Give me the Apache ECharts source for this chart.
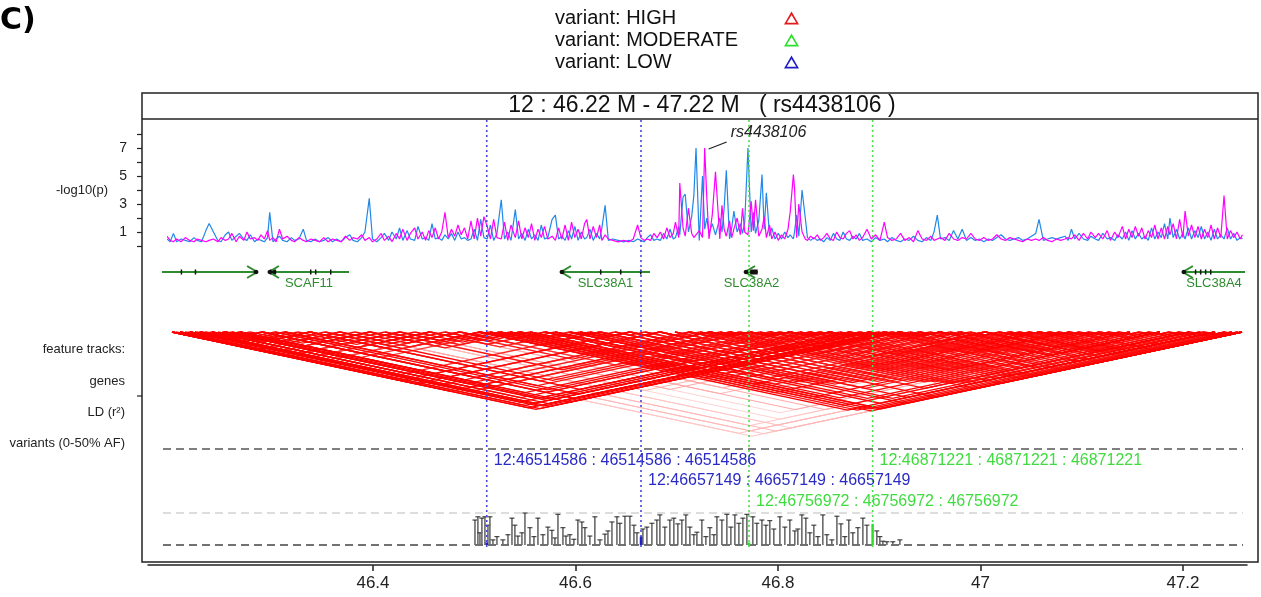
<!DOCTYPE html>
<html><head><meta charset="utf-8">
<script src="https://cdn.jsdelivr.net/npm/echarts@6/dist/echarts.min.js"></script>
<style>html,body{margin:0;padding:0;background:#fff}#c{width:1261px;height:597px}</style>
</head><body><div id="c"></div>
<script>
// ---------------- DATA ----------------
// association track: SNP positions (Mb) and -log10(p) of the two traces
const posA = [46.219,46.222,46.225,46.228,46.232,46.236,46.240,46.244,46.247,46.251,
46.255,46.258,46.262,46.266,46.269,46.273,46.276,46.279,46.283,46.286,
46.290,46.293,46.296,46.300,46.303,46.306,46.309,46.312,46.314,46.317,
46.320,46.323,46.326,46.330,46.334,46.337,46.341,46.345,46.348,46.352,
46.356,46.360,46.364,46.368,46.372,46.376,46.380,46.384,46.388,46.391,
46.395,46.399,46.402,46.406,46.409,46.413,46.417,46.420,46.424,46.427,
46.431,46.434,46.437,46.441,46.444,46.448,46.451,46.455,46.458,46.461,
46.464,46.467,46.470,46.473,46.476,46.479,46.482,46.485,46.488,46.491,
46.494,46.497];
const blueA = [0.5,0.3,0.9,0.3,0.5,0.4,0.3,0.6,0.4,0.3,
1.1,1.6,1.0,0.4,0.3,0.8,1.0,0.4,0.7,0.9,
0.5,0.4,0.8,0.3,0.5,0.4,0.3,0.6,2.4,0.3,
0.5,0.7,0.4,0.3,0.6,0.4,0.5,1.2,0.4,0.3,
0.5,0.3,0.4,0.6,0.3,0.5,0.3,0.6,0.8,0.4,
0.3,0.6,1.0,3.4,0.5,0.3,0.6,0.9,0.4,1.0,
0.5,1.3,0.4,1.1,0.5,0.4,1.4,0.5,0.6,0.4,
1.6,0.5,0.6,0.4,0.8,0.5,0.9,0.4,1.0,0.5,
0.6,0.4];
const magA = [0.7,0.4,0.3,0.5,0.3,0.6,0.4,0.3,0.5,0.4,
0.3,0.4,0.5,0.3,0.6,0.4,0.5,0.9,0.3,0.7,
0.4,1.0,0.5,0.6,0.4,0.8,0.5,1.1,0.4,0.6,
0.3,1.2,0.5,0.7,0.4,0.3,0.6,0.4,0.3,0.5,
0.4,0.3,0.6,0.3,0.5,0.4,0.3,0.7,0.4,0.6,
0.5,0.8,0.4,0.6,0.3,0.5,0.9,0.4,0.7,0.3,
0.9,0.5,1.2,0.4,0.9,1.3,0.5,1.0,0.4,1.1,
0.6,1.3,0.5,1.0,2.4,0.6,1.2,0.7,1.5,0.8,
1.3,0.5];
const posB = [46.500,46.503,46.506,46.509,46.512,46.515,46.518,46.521,46.524,46.528,
46.531,46.534,46.537,46.541,46.544,46.547,46.550,46.553,46.556,46.559,
46.562,46.565,46.568,46.571,46.575,46.578,46.581,46.584,46.587,46.590,
46.593,46.596,46.599,46.602,46.605,46.607,46.610,46.613,46.616,46.619,
46.621,46.624,46.627,46.631,46.636,46.641,46.646,46.650,46.654,46.657,
46.660,46.663,46.666,46.669,46.672,46.675,46.678,46.681,46.684,46.687,
46.689,46.692,46.693,46.696,46.698,46.701,46.704,46.706,46.708,46.711,
46.714,46.716,46.718,46.720,46.723,46.726,46.730,46.732,46.734,46.736,
46.739,46.741,46.743,46.746,46.749,46.751,46.753,46.756,46.759,46.761,
46.763,46.766,46.769,46.771,46.773,46.776,46.778,46.781,46.784,46.787,
46.790,46.793,46.795,46.798,46.799,46.801,46.803,46.806,46.809,46.811,
46.814,46.817,46.820,46.823,46.826,46.829,46.832,46.835,46.838,46.841,
46.844,46.847,46.850,46.853,46.856,46.859];
const blueB = [0.5,1.2,0.4,1.9,0.6,0.5,1.5,0.4,0.9,3.3,
0.5,1.0,0.4,2.6,0.5,0.9,0.4,1.2,0.5,0.8,
0.4,1.5,0.5,0.6,1.9,2.2,0.5,0.7,0.4,1.1,
0.5,1.4,0.4,1.0,0.5,0.6,1.2,0.4,0.9,0.5,
1.3,2.9,0.4,0.5,0.4,0.3,0.4,0.3,0.5,0.4,
0.3,0.6,0.8,0.4,0.5,0.4,0.9,0.5,1.2,0.5,
0.6,1.4,0.8,3.5,3.7,1.0,2.1,3.6,7.0,0.4,
5.0,1.2,2.0,0.9,1.6,0.8,2.0,1.0,2.7,5.4,
0.5,1.3,2.5,1.0,1.6,0.9,1.7,7.0,1.0,2.4,
0.9,1.8,5.1,1.2,3.8,0.7,1.3,0.5,0.9,0.5,
1.0,0.6,0.8,0.5,1.0,2.2,0.7,4.0,2.0,0.6,
0.4,0.6,0.4,0.5,0.3,0.6,0.4,0.9,0.5,0.4,
1.0,0.5,0.4,0.7,0.5,0.9];
const magB = [1.8,0.5,2.0,0.7,2.1,1.4,0.5,1.9,0.6,0.5,
1.7,0.4,1.5,0.6,1.8,0.5,1.3,0.6,1.6,0.4,
1.2,0.6,1.4,0.5,0.7,0.4,1.3,0.5,1.5,0.4,
1.7,0.6,1.2,0.5,1.6,1.9,0.5,1.4,0.6,1.5,
0.4,0.8,0.5,0.4,0.3,0.4,0.3,0.5,1.5,0.6,
0.4,0.5,0.4,0.9,0.6,1.0,0.5,1.3,0.6,0.9,
1.7,0.6,4.5,1.3,0.7,2.7,0.9,0.6,0.8,1.1,
0.6,7.0,3.4,0.5,2.2,5.3,0.5,2.9,1.2,0.7,
1.8,0.6,1.2,2.0,0.8,2.7,1.0,0.8,3.2,1.1,
3.3,0.7,1.2,2.1,0.6,1.5,0.5,1.0,0.4,0.8,
0.5,1.2,2.4,5.1,4.2,0.6,3.0,1.0,0.5,0.4,
0.7,0.5,0.8,0.4,0.6,0.9,0.5,0.4,1.0,0.6,
0.5,0.9,1.1,0.5,0.8,0.4];
const posC = [46.862,46.866,46.870,46.874,46.878,46.882,46.885,46.889,46.893,46.897,
46.901,46.905,46.909,46.913,46.917,46.921,46.925,46.928,46.931,46.934,
46.938,46.942,46.946,46.950,46.954,46.958,46.962,46.966,46.970,46.974,
46.978,46.982,46.986,46.990,46.994,46.998,47.002,47.006,47.010,47.014,
47.018,47.022,47.025,47.029,47.033,47.037,47.041,47.045,47.049,47.052,
47.055,47.058,47.062,47.066,47.070,47.073,47.077,47.080,47.084,47.088,
47.091,47.095,47.098,47.102,47.105,47.108,47.111,47.114,47.117,47.120,
47.123,47.126,47.129,47.132,47.135,47.138,47.141,47.144,47.146,47.149,
47.152,47.155,47.158,47.160,47.163,47.166,47.169,47.172,47.175,47.178,
47.181,47.184,47.187,47.190,47.193,47.196,47.199,47.202,47.205,47.208,
47.211,47.213];
const blueC = [0.4,0.5,0.3,0.6,0.4,0.5,0.3,0.6,0.4,0.3,
0.5,0.4,0.7,0.4,0.3,0.6,0.4,1.0,2.2,0.5,
0.6,0.4,1.1,0.5,1.2,0.4,0.6,0.4,0.5,0.3,
0.5,0.4,0.6,0.8,0.5,0.4,0.5,0.6,0.4,0.5,
0.7,0.9,1.9,0.4,0.5,0.6,0.5,0.6,0.7,0.4,
1.2,0.5,0.9,0.5,0.4,0.7,0.5,0.4,0.9,0.5,
0.6,0.4,0.8,0.5,1.0,0.4,1.1,0.5,0.9,0.5,
0.7,0.4,1.3,0.5,1.0,0.6,1.6,0.5,2.0,0.6,
1.2,0.5,0.9,0.5,1.3,0.5,1.1,0.6,1.4,0.5,
1.0,0.4,1.2,0.5,0.8,0.5,1.3,0.5,0.9,0.4,
0.6,0.5];
const magC = [0.6,1.2,0.5,0.8,0.4,1.7,0.6,0.4,0.5,0.9,
0.4,0.6,0.3,1.1,0.5,0.4,0.7,0.4,0.5,0.6,
0.4,0.9,0.5,0.4,0.6,0.5,0.9,0.5,0.4,0.6,
0.4,0.5,0.8,0.5,0.4,0.6,0.5,0.4,0.3,0.5,
0.4,0.5,0.4,0.6,0.4,0.3,0.5,0.4,0.5,0.6,
0.5,0.8,0.4,0.9,0.5,1.0,0.6,0.9,0.5,1.1,
0.4,1.0,0.6,1.4,0.5,1.2,0.6,1.4,0.7,1.3,
0.5,1.1,0.6,1.5,0.5,1.3,0.5,1.4,0.8,1.6,
0.5,1.9,0.6,2.5,0.7,1.5,0.6,1.4,0.5,1.2,
0.6,1.5,0.5,1.3,0.6,3.6,0.5,1.1,0.6,1.0,
0.5,0.8];
const yTickLabelValues = [1, 3, 5, 7];
const leadSnpName = 'rs4438106';
const leadSnpPos = 46.716;
const leadSnpLogP = 7.0;

// genes track
const geneNames  = ['', 'SCAF11', 'SLC38A1', 'SLC38A2', 'SLC38A4'];
const geneStart  = [46.2145, 46.3133, 46.5832, 46.7533, 47.1580];
const geneEnd    = [46.3023, 46.3873, 46.6655, 46.7653, 47.2154];
const geneStrand = ['+', '-', '-', '-', '-'];
const geneExons  = [
  [[46.2317, 46.2330], [46.2447, 46.2460]],
  [[46.3143, 46.3200], [46.3512, 46.3516], [46.3558, 46.3562], [46.3697, 46.3701]],
  [[46.6192, 46.6196], [46.6377, 46.6381], [46.6562, 46.6566]],
  [[46.7580, 46.7650]],
  [[47.1690, 47.1694], [47.1737, 47.1741], [47.1783, 47.1787], [47.1830, 47.1834]]
];

// LD track: SNP positions (Mb) and pairs (index i, index j, r2)
const ldSnps = [46.2237,46.2311,46.2403,46.2496,46.2607,46.2727,46.2865,46.3069,46.3281,46.3512,
46.3790,46.4067,46.4344,46.4621,46.4899,46.5084,46.5268,46.5453,46.5684,46.5915,
46.6193,46.6470,46.6747,46.7024,46.7209,46.7394,46.7579,46.7764,46.7949,46.8133,
46.8318,46.8503,46.8688,46.8827,46.8965,46.9150,46.9335,46.9520,46.9751,46.9982,
47.0259,47.0536,47.0814,47.1091,47.1368,47.1645,47.1877,47.2126,
46.9888,47.0072,47.0165,47.0350,47.0442,47.0627,47.0719,47.0904,47.0996,47.1181,
47.1274,47.1458,47.1551,47.1736,47.1782,47.1967,47.2031,47.2087,
46.5175,46.5360,46.5545,46.5776,46.6007,46.6099,46.6330,46.6607,46.6885,46.7116,
46.7300,46.7485,46.7670,46.7855,46.8040,46.8224,46.8409,46.8594,46.8760,46.8890,
46.9056,46.9241,46.9426,46.9610,
46.2274,46.2357,46.2449,46.2551,46.2662,46.2791,46.2958,46.3189,46.3401,46.3651,
46.3928,46.4205,46.4482,46.4759];
const ldI = [0,0,1,1,2,2,3,3,4,4,5,5,6,6,7,7,8,8,9,9,
0,1,2,3,4,5,6,7,0,2,4,6,
16,15,17,18,16,19,20,21,22,23,24,25,26,27,28,29,30,20,22,24,26,28,
8,7,9,8,10,9,11,12,7,10,13,14,15,16,17,13,12,11,10,14,10,11,12,
0,0,1,2,3,4,5,6,7,8,9,10,11,12,0,1,2,3,4,5,6,7,0,1,2,
13,14,15,16,17,18,19,20,21,22,23,24,25,26,27,28,29,30,31,32,33,34,35,36,37,38,39,40,41,42,
15,17,19,21,23,25,27,29,31,33,35,37,39,
16,18,20,22,24,26,28,30,32,34,
14,18,22,26,30,34,38,42,45,
24,25,26,27,28,29,30,31,32,33,24,25,26,27,28,29,30,32,33,34,35,36,37,34,36,38,35,37,39,41,40,38,
0,1,2,3,4,5,6,7,8,9,10,11,12,13,0,1,3,5,7,9,11,13,
15,17,19,21,23,25,14,16,18];
const ldJ = [34,33,34,32,33,31,34,32,33,30,32,31,34,29,33,30,32,28,31,27,
22,21,23,20,22,24,21,23,25,26,25,26,
47,46,47,46,45,47,46,47,45,44,47,46,45,44,43,42,41,43,42,41,40,39,
46,46,45,47,46,47,45,44,47,47,44,45,40,41,42,39,36,35,34,38,30,31,29,
3,6,5,7,8,9,10,11,12,13,14,15,16,17,9,10,11,12,13,14,15,16,12,13,14,
18,19,20,21,22,23,24,25,26,27,28,29,30,31,32,33,34,35,36,37,38,39,40,41,42,43,44,45,46,47,
24,26,28,30,32,34,36,38,40,42,44,46,47,
29,31,33,35,37,39,41,43,45,47,
17,20,24,28,32,36,40,44,47,
35,37,38,40,41,43,44,45,46,47,39,40,42,43,45,46,47,40,41,43,45,46,47,44,44,46,41,43,45,47,46,44,
2,4,5,6,7,8,9,10,11,12,13,14,15,16,5,7,9,11,13,15,17,19,
28,30,32,34,36,38,27,30,32];
const ldR2 = [0.95,0.9,0.9,0.95,0.9,0.85,0.95,0.9,0.9,0.85,0.95,0.9,0.9,0.85,0.9,0.8,0.85,0.8,0.85,0.8,
0.8,0.85,0.8,0.75,0.85,0.8,0.8,0.75,0.85,0.8,0.8,0.75,
0.95,0.9,0.9,0.85,0.85,0.9,0.85,0.85,0.8,0.8,0.85,0.8,0.8,0.8,0.75,0.75,0.7,0.75,0.75,0.7,0.7,0.7,
0.25,0.2,0.2,0.2,0.2,0.25,0.15,0.15,0.2,0.15,0.3,0.3,0.35,0.3,0.3,0.25,0.3,0.25,0.3,0.3,0.3,0.25,0.3,
0.9,0.8,0.85,0.8,0.85,0.8,0.75,0.8,0.75,0.8,0.75,0.8,0.75,0.8,0.7,0.75,0.7,0.75,0.7,0.65,0.7,0.65,0.6,0.6,0.55,
0.8,0.8,0.85,0.8,0.85,0.8,0.85,0.8,0.85,0.8,0.85,0.8,0.85,0.8,0.85,0.8,0.85,0.8,0.85,0.8,0.85,0.8,0.85,0.8,0.85,0.8,0.85,0.8,0.85,0.8,
0.7,0.75,0.7,0.75,0.7,0.75,0.7,0.75,0.7,0.75,0.7,0.75,0.7,
0.7,0.65,0.7,0.65,0.7,0.65,0.7,0.65,0.7,0.65,
0.9,0.9,0.9,0.9,0.9,0.9,0.9,0.9,0.9,
0.85,0.8,0.85,0.8,0.85,0.8,0.85,0.8,0.85,0.8,0.8,0.85,0.8,0.85,0.8,0.85,0.8,0.85,0.8,0.85,0.8,0.85,0.8,0.85,0.9,0.85,0.9,0.85,0.9,0.85,0.9,0.9,
0.9,0.85,0.9,0.85,0.9,0.85,0.9,0.85,0.9,0.85,0.9,0.85,0.9,0.85,0.8,0.75,0.8,0.75,0.8,0.75,0.8,0.75,
0.75,0.7,0.75,0.7,0.75,0.7,0.7,0.75,0.7];
// further LD pairs: [index i, index j, r2]
const ldRightFanPairs = [[67,48,0.85],[68,49,0.8],[69,50,0.85],[70,51,0.8],[66,52,0.85],[71,53,0.8],[72,54,0.85],[73,55,0.8],[67,56,0.85],
[74,57,0.8],[68,58,0.85],[75,59,0.8],[69,60,0.85],[76,61,0.8],[70,62,0.85],[66,63,0.8],[67,64,0.85],[17,65,0.8],
[80,48,0.8],[81,49,0.8],[82,50,0.8],[83,51,0.8],[84,52,0.8],[85,53,0.8],[86,54,0.8],[87,55,0.8],[88,56,0.8],
[89,57,0.8],[36,58,0.8],[37,59,0.8],[38,60,0.8],[48,61,0.8],[39,62,0.8],[49,63,0.8],[50,64,0.8],[51,65,0.8]];
const ldMidPairs = [[66,35,0.8],[67,36,0.75],[68,37,0.8],[69,38,0.75],[70,39,0.8],[71,40,0.75],[72,41,0.8],[73,42,0.75],
[74,43,0.8],[75,44,0.75],[76,45,0.8],[77,46,0.75],[78,47,0.8],[79,63,0.75],[80,64,0.8],[81,65,0.75]];
const ldLeftPairs = [[92,85,0.9],[95,83,0.9],[97,81,0.85],[99,79,0.85],[101,77,0.8],[103,75,0.8],
[90,93,0.85],[91,95,0.85],[92,96,0.85],[93,97,0.85],[94,98,0.85],[95,99,0.85],[96,100,0.85],[97,101,0.85],
[98,102,0.85],[99,103,0.85],[100,14,0.85],[101,66,0.85],[102,67,0.85],[103,68,0.85]];
const ldShortPairs = [[66,18,0.9],[67,69,0.9],[68,70,0.9],[69,71,0.9],[70,72,0.9],[71,21,0.9],[72,73,0.9],[73,22,0.9],
[74,23,0.9],[75,76,0.9],[24,77,0.9],[76,26,0.9],[77,78,0.9],[26,79,0.9],[78,28,0.9],[79,80,0.9],[28,81,0.9],
[80,30,0.9],[81,82,0.9],[30,83,0.9],[82,84,0.9],[83,85,0.9],[84,86,0.9],[85,87,0.9],[86,36,0.9],[87,88,0.9],
[36,89,0.9],[88,38,0.9],[89,48,0.9],[38,49,0.9],[48,50,0.9],[49,40,0.9],[50,51,0.9],[40,52,0.9],[51,53,0.9],
[52,54,0.9],[53,55,0.9],[54,56,0.9],[55,57,0.9],[56,58,0.9],[57,59,0.9],[58,60,0.9],[59,61,0.9],[60,62,0.9],
[61,63,0.9],[62,64,0.9],[63,65,0.9]];

// variants track (0-50% AF)
const afPos = [46.5037,46.5064,46.5083,46.5101,46.5129,46.5157,46.5175,46.5203,46.5240,46.5295,
46.5342,46.5379,46.5406,46.5434,46.5471,46.5499,46.5545,46.5582,46.5619,46.5665,
46.5711,46.5748,46.5776,46.5804,46.5850,46.5878,46.5914,46.5951,46.5988,46.6025,
46.6053,46.6099,46.6145,46.6192,46.6238,46.6266,46.6303,46.6349,46.6376,46.6423,
46.6469,46.6506,46.6534,46.6589,46.6626,46.6672,46.6718,46.6746,46.6792,46.6838,
46.6875,46.6912,46.6949,46.6986,46.7023,46.7060,46.7088,46.7134,46.7171,46.7208,
46.7245,46.7273,46.7319,46.7365,46.7402,46.7439,46.7476,46.7513,46.7550,46.7605,
46.7642,46.7689,46.7726,46.7762,46.7799,46.7855,46.7901,46.7947,46.7993,46.8021,
46.8058,46.8095,46.8132,46.8169,46.8206,46.8252,46.8289,46.8335,46.8382,46.8419,
46.8455,46.8492,46.8529,46.8576,46.8622,46.8659,46.8751,46.8779,46.8807,46.8844,
46.8899,46.8964];
const afVal = [0.39,0.44,0.19,0.42,0.44,0.31,0.44,0.08,0.13,0.08,
0.16,0.42,0.31,0.14,0.19,0.50,0.27,0.13,0.42,0.16,
0.28,0.23,0.11,0.48,0.27,0.14,0.16,0.09,0.39,0.36,
0.27,0.14,0.44,0.08,0.17,0.22,0.36,0.44,0.34,0.45,
0.45,0.31,0.19,0.25,0.28,0.34,0.39,0.47,0.28,0.39,
0.42,0.33,0.39,0.47,0.28,0.16,0.20,0.39,0.13,0.27,
0.16,0.44,0.39,0.48,0.28,0.47,0.34,0.42,0.48,0.44,
0.34,0.39,0.31,0.38,0.25,0.44,0.28,0.39,0.22,0.25,
0.47,0.42,0.19,0.31,0.13,0.47,0.16,0.08,0.45,0.33,
0.13,0.39,0.19,0.27,0.42,0.31,0.22,0.13,0.06,0.05,
0.05,0.08];
const variantChrom = '12';
const variantIds = ['46514586', '46657149', '46756972', '46871221'];
const variantPos = [46.514586, 46.657149, 46.756972, 46.871221];
const variantImpact = ['LOW', 'LOW', 'MODERATE', 'MODERATE'];
const variantAF = [0.04, 0.13, 0.04, 0.33];
const variantLabelRow = [0, 1, 2, 0];
const variantClasses = ['HIGH', 'MODERATE', 'LOW'];

// genomic axis
const xTickValues = [46.4, 46.6, 46.8, 47, 47.2];
const xTickLabels = ['46.4', '46.6', '46.8', '47', '47.2'];

// ---------------- CHART ----------------
const FONT = '"Liberation Sans", Arial, Helvetica, sans-serif';
const GENE_GREEN = '#2f8b2f';
const classColor = {HIGH: '#e41a1a', MODERATE: '#2ee02e', LOW: '#1f1fc8'};
const dotColor = {HIGH: '#e41a1a', MODERATE: '#4de04d', LOW: '#4646e0'};
const labelColor = {HIGH: '#e41a1a', MODERATE: '#3fdc3f', LOW: '#2a2ac4'};
const labelRowY = [461, 481, 502];
const trackMin = 46.22, trackMax = 47.22;

const snpPos = posA.concat(posB, posC);
const pBlue = blueA.concat(blueB, blueC);
const pMag = magA.concat(magB, magC);

function txt(text, x, y, font, fill, align, valign) {
  return {type: 'text', x: x, y: y, silent: true,
    style: {text: text, font: font, fill: fill, textFill: fill,
      textAlign: align, align: align, textVerticalAlign: valign, verticalAlign: valign}};
}

const ldAllPairs = ldI.map((i, k) => [i, ldJ[k], ldR2[k]])
  .concat(ldRightFanPairs, ldMidPairs, ldLeftPairs, ldShortPairs);
const ldData = ldAllPairs.map(p => {
  const a = ldSnps[p[0]], b = ldSnps[p[1]];
  return [Math.min(a, b), Math.max(a, b), p[2]];
}).sort((a, b) => a[2] - b[2]);

function ldColor(r2) {
  const a = Math.min(1, r2 * 1.15);
  const g = Math.round(255 * (1 - a));
  return 'rgb(255,' + g + ',' + g + ')';
}

function variantSeries(cls) {
  const idx = variantImpact.map((c, i) => c === cls ? i : -1).filter(i => i >= 0);
  return {
    name: 'variant: ' + cls, type: 'custom', xAxisIndex: 3, yAxisIndex: 3, z: 6, clip: false,
    itemStyle: {color: classColor[cls]},
    data: idx.map(i => [variantPos[i], variantAF[i], i]),
    renderItem: function (params, api) {
      const k = api.value(2);
      const base = api.coord([variantPos[k], 0]);
      const top = api.coord([variantPos[k], variantAF[k]]);
      const x = base[0];
      const label = variantChrom + ':' + variantIds[k] + ' : ' + variantIds[k] + ' : ' + variantIds[k];
      return {type: 'group', children: [
        {type: 'line', shape: {x1: x, y1: 120, x2: x, y2: 548},
          style: {stroke: dotColor[cls], lineWidth: 1.6, lineDash: [2, 3]}},
        {type: 'line', shape: {x1: x, y1: base[1], x2: x, y2: top[1]},
          style: {stroke: classColor[cls], lineWidth: 2.5}},
        txt(label, x + 7, labelRowY[variantLabelRow[k]], '16px ' + FONT, labelColor[cls], 'left', 'middle')
      ]};
    }
  };
}

const option = {
  animation: false,
  backgroundColor: '#ffffff',
  title: {
    text: '12 : 46.22 M - 47.22 M   ( rs4438106 )',
    left: 702, top: 94, padding: 0, textAlign: 'center',
    textStyle: {fontFamily: FONT, fontSize: 23, fontWeight: 'normal', color: '#111'}
  },
  legend: {
    data: variantClasses.map(c => 'variant: ' + c),
    orient: 'vertical', left: 555, top: 8, padding: 0, itemGap: 2,
    align: 'right', itemWidth: 15, itemHeight: 13, selectedMode: false,
    icon: 'path://M7,0L14,12L0,12Z M7,3.1L2.6,10.5L11.4,10.5Z',
    formatter: n => '{t|' + n + '}',
    textStyle: {rich: {t: {width: 224, align: 'left', fontSize: 20, lineHeight: 21, color: '#111', fontFamily: FONT}}}
  },
  grid: [
    {left: 168, width: 1082, top: 134, height: 112},
    {left: 168, width: 1082, top: 262, height: 20},
    {left: 168, width: 1082, top: 332, height: 115},
    {left: 168, width: 1082, top: 513, height: 32},
    {left: 148, width: 1099, top: 540, height: 25}
  ],
  xAxis: [
    {gridIndex: 0, type: 'value', min: trackMin, max: trackMax, show: false},
    {gridIndex: 1, type: 'value', min: trackMin, max: trackMax, show: false},
    {gridIndex: 2, type: 'value', min: trackMin, max: trackMax, show: false},
    {gridIndex: 3, type: 'value', min: trackMin, max: trackMax, show: false},
    {gridIndex: 4, type: 'value', min: 46.1778, max: 47.2632, position: 'bottom',
      axisLine: {show: true, lineStyle: {color: '#222', width: 1.5}},
      axisTick: {show: true, customValues: xTickValues, length: 6, lineStyle: {color: '#222', width: 1.5}},
      axisLabel: {show: true, customValues: xTickValues, margin: 10, fontSize: 17, color: '#222', fontFamily: FONT,
        formatter: v => { const i = xTickValues.findIndex(t => Math.abs(t - v) < 1e-6); return i >= 0 ? xTickLabels[i] : ''; }},
      splitLine: {show: false}}
  ],
  yAxis: [
    {gridIndex: 0, type: 'value', min: 0, max: 8, interval: 1, offset: 26,
      axisLine: {show: false},
      axisTick: {show: true, length: 5, lineStyle: {color: '#222', width: 1.2}},
      axisLabel: {margin: 15, fontSize: 14, color: '#222', fontFamily: FONT,
        formatter: v => yTickLabelValues.indexOf(v) >= 0 ? String(v) : ''},
      splitLine: {show: false},
      name: '-log10(p)', nameLocation: 'middle', nameRotate: 0, nameGap: 34,
      nameTextStyle: {fontSize: 13, color: '#222', fontFamily: FONT}},
    {gridIndex: 1, type: 'value', min: 0, max: 1, show: false},
    {gridIndex: 2, type: 'value', min: 0, max: 0.5, inverse: true, show: false},
    {gridIndex: 3, type: 'value', min: 0, max: 0.5, show: false},
    {gridIndex: 4, type: 'value', min: 0, max: 1, show: false}
  ],
  graphic: [
    txt('C)', 0, 21, 'bold 30px "DejaVu Sans"', '#000', 'left', 'middle'),
    {type: 'rect', shape: {x: 142, y: 93, width: 1116, height: 469}, silent: true,
      style: {fill: 'none', stroke: '#222', lineWidth: 1.5}},
    {type: 'line', shape: {x1: 142, y1: 119, x2: 1258, y2: 119}, silent: true, style: {stroke: '#222', lineWidth: 1.5}},
    {type: 'line', shape: {x1: 137, y1: 396, x2: 142, y2: 396}, silent: true, style: {stroke: '#222', lineWidth: 1.2}},
    txt('feature tracks:', 125, 349, '13px ' + FONT, '#222', 'right', 'middle'),
    txt('genes', 125, 381, '13px ' + FONT, '#222', 'right', 'middle'),
    txt('LD (r\u00B2)', 125, 412, '13px ' + FONT, '#222', 'right', 'middle'),
    txt('variants (0-50% AF)', 125, 443, '13px ' + FONT, '#222', 'right', 'middle'),
    {type: 'line', shape: {x1: 163, y1: 449, x2: 1243, y2: 449}, silent: true, style: {stroke: '#555', lineWidth: 1.5, lineDash: [8, 5]}},
    {type: 'line', shape: {x1: 163, y1: 513, x2: 1243, y2: 513}, silent: true, style: {stroke: '#bbb', lineWidth: 1, lineDash: [8, 5]}},
    {type: 'line', shape: {x1: 163, y1: 545, x2: 1243, y2: 545}, silent: true, style: {stroke: '#444', lineWidth: 1.5, lineDash: [8, 5]}}
  ],
  series: [
    {name: 'trait A', type: 'line', xAxisIndex: 0, yAxisIndex: 0, z: 3, symbol: 'none',
      lineStyle: {color: '#1f88e8', width: 1.2}, data: snpPos.map((p, i) => [p, pBlue[i]])},
    {name: 'trait B', type: 'line', xAxisIndex: 0, yAxisIndex: 0, z: 4, symbol: 'none',
      lineStyle: {color: '#ff00ff', width: 1.2}, data: snpPos.map((p, i) => [p, pMag[i]])},
    {name: 'lead', type: 'custom', xAxisIndex: 0, yAxisIndex: 0, z: 5, clip: false,
      data: [[leadSnpPos, leadSnpLogP]],
      renderItem: function (params, api) {
        const p = api.coord([api.value(0), api.value(1)]);
        return {type: 'group', children: [
          {type: 'line', shape: {x1: p[0] + 4, y1: p[1] + 1, x2: p[0] + 22, y2: p[1] - 6}, style: {stroke: '#222', lineWidth: 1.3}},
          txt(leadSnpName, p[0] + 26, p[1] - 15, 'italic 16px ' + FONT, '#222', 'left', 'middle')
        ]};
      }},
    {name: 'genes', type: 'custom', xAxisIndex: 1, yAxisIndex: 1, z: 3, clip: false,
      data: geneStart.map((s, i) => [s, 0.5, i]),
      renderItem: function (params, api) {
        const i = api.value(2);
        const s = api.coord([geneStart[i], 0.5]), e = api.coord([geneEnd[i], 0.5]);
        const y = s[1];
        const ch = [{type: 'line', shape: {x1: s[0], y1: y, x2: e[0], y2: y}, style: {stroke: GENE_GREEN, lineWidth: 2}}];
        geneExons[i].forEach(function (ex) {
          const xa = api.coord([ex[0], 0.5])[0], xb = api.coord([ex[1], 0.5])[0];
          ch.push({type: 'rect', shape: {x: xa, y: y - 2.5, width: Math.max(1.5, xb - xa), height: 5}, style: {fill: '#111'}});
        });
        const minus = geneStrand[i] === '-';
        const tip = minus ? s[0] : e[0];
        const d = minus ? 1 : -1;
        ch.push({type: 'polyline', shape: {points: [[tip + d * 10, y - 6], [tip, y], [tip + d * 10, y + 6]]},
          style: {stroke: GENE_GREEN, lineWidth: 2, fill: null}});
        ch.push({type: 'circle', shape: {cx: tip + d, cy: y, r: 2.3}, style: {fill: '#111'}});
        if (geneNames[i]) ch.push(txt(geneNames[i], (s[0] + e[0]) / 2, y + 11, '13px ' + FONT, GENE_GREEN, 'center', 'middle'));
        return {type: 'group', children: ch};
      }},
    {name: 'LD', type: 'custom', xAxisIndex: 2, yAxisIndex: 2, z: 2, clip: false,
      data: ldData,
      renderItem: function (params, api) {
        const xi = api.value(0), xj = api.value(1), r2 = api.value(2);
        const a = api.coord([xi, 0]), m = api.coord([(xi + xj) / 2, (xj - xi) / 2]), b = api.coord([xj, 0]);
        return {type: 'polyline', shape: {points: [a, m, b]},
          style: {stroke: ldColor(r2), lineWidth: r2 > 0.5 ? 1.3 : 1.0, fill: null}};
      }},
    {name: 'AF', type: 'custom', xAxisIndex: 3, yAxisIndex: 3, z: 3, clip: false,
      data: afPos.map((p, i) => [p, afVal[i]]),
      renderItem: function (params, api) {
        const b = api.coord([api.value(0), 0]);
        const t = api.coord([api.value(0), api.value(1)]);
        return {type: 'group', children: [
          {type: 'line', shape: {x1: b[0], y1: b[1], x2: b[0], y2: t[1]}, style: {stroke: '#6a6a6a', lineWidth: 1.6}},
          {type: 'line', shape: {x1: b[0] - 2.5, y1: t[1], x2: b[0] + 2.5, y2: t[1]}, style: {stroke: '#222', lineWidth: 1}}
        ]};
      }},
    variantSeries('HIGH'),
    variantSeries('MODERATE'),
    variantSeries('LOW')
  ]
};

const chart = echarts.init(document.getElementById('c'), null, {renderer: 'canvas'});
chart.setOption(option);
</script>
</body></html>
